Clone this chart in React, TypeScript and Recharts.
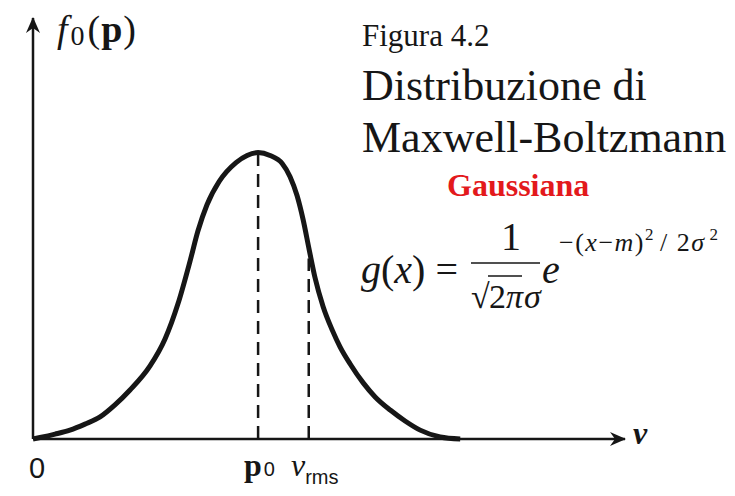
import { ComposedChart, Line, XAxis, YAxis, ReferenceLine, Customized } from "recharts";

// Speed (in units of the most probable speed p0) and relative density f0
const speeds = [
  0, 0.031, 0.098, 0.164, 0.231, 0.298, 0.364, 0.431, 0.52, 0.587, 0.644, 0.698, 0.733, 0.773, 0.827, 0.902, 0.951, 1.0,
  1.053, 1.107, 1.142, 1.173, 1.2, 1.227, 1.253, 1.289, 1.329, 1.364, 1.409, 1.467, 1.52, 1.587, 1.653, 1.72, 1.809, 1.898,
];
const density = [
  0, 0.005, 0.017, 0.031, 0.052, 0.077, 0.119, 0.171, 0.255, 0.35, 0.472, 0.622, 0.727, 0.818, 0.899, 0.965, 0.99, 1.0,
  0.99, 0.962, 0.916, 0.85, 0.766, 0.661, 0.563, 0.462, 0.381, 0.322, 0.262, 0.196, 0.147, 0.101, 0.063, 0.031, 0.007, 0,
];

// marked speeds on the axis
const P0 = 1.0;
const P0_DENSITY = 1.0;
const V_RMS = 1.225;
const V_RMS_DENSITY = 0.63;

const X_MAX = 2.63;
const Y_MAX = 1.47;

const data = speeds.map((v, i) => ({ v, f: density[i] }));

const INK = "#161616";
const SERIF = "'Liberation Serif', 'DejaVu Serif', serif";
const SANS = "'Liberation Sans', 'DejaVu Sans', sans-serif";

// arrow heads, axis labels and the side text block
function Annotations() {
  return (
    <g>
      <defs>
        <marker
          id="axis-arrow"
          viewBox="-16 -8 18 16"
          refX={0}
          refY={0}
          markerWidth={18}
          markerHeight={16}
          markerUnits="userSpaceOnUse"
          orient="auto"
        >
          <path d="M1,0 L-15,-7 L-10,0 L-15,7 Z" fill={INK} />
        </marker>
      </defs>

      {/* y axis title */}
      <text x={57} y={42} fontFamily={SERIF} fontSize={38} fill={INK}>
        <tspan fontStyle="italic">f</tspan>
        <tspan fontSize={28} dx={3} dy={3}>0</tspan>
        <tspan dx={3} dy={-3}>(</tspan>
        <tspan fontWeight="bold" dx={1}>p</tspan>
        <tspan dx={1}>)</tspan>
      </text>

      {/* x axis title */}
      <text x={633} y={444} fontFamily={SERIF} fontSize={32} fontStyle="italic" fontWeight="bold" fill={INK}>
        v
      </text>

      {/* tick labels */}
      <text x={37} y={478} textAnchor="middle" fontFamily={SANS} fontSize={29} fill={INK}>
        0
      </text>
      <text x={244} y={476} fontFamily={SERIF} fontSize={32} fill={INK}>
        <tspan fontWeight="bold">p</tspan>
        <tspan fontFamily={SANS} fontSize={20} dx={2}>0</tspan>
      </text>
      <text x={291} y={476} fontFamily={SERIF} fontSize={32} fill={INK}>
        <tspan fontStyle="italic">v</tspan>
        <tspan fontFamily={SANS} fontSize={20} dy={8}>rms</tspan>
      </text>

      {/* title block */}
      <text x={362} y={46} fontFamily={SERIF} fontSize={31} fill={INK}>
        Figura 4.2
      </text>
      <text x={362} y={100} fontFamily={SERIF} fontSize={44} fill={INK}>
        Distribuzione di
      </text>
      <text x={362} y={152} fontFamily={SERIF} fontSize={44} fill={INK}>
        Maxwell-Boltzmann
      </text>
      <text x={447} y={196} fontFamily={SERIF} fontSize={32} fontWeight="bold" fill="#e3191c">
        Gaussiana
      </text>

      {/* g(x) = 1/(sqrt(2 pi) sigma) e^(-(x-m)^2/2 sigma^2) */}
      <text x={361} y={283} fontFamily={SERIF} fontSize={40} fill={INK}>
        <tspan fontStyle="italic">g</tspan>
        <tspan>(</tspan>
        <tspan fontStyle="italic">x</tspan>
        <tspan>) =</tspan>
      </text>
      <text x={511} y={250} textAnchor="middle" fontFamily={SERIF} fontSize={40} fill={INK}>
        1
      </text>
      <line x1={471} y1={263} x2={540} y2={263} stroke={INK} strokeWidth={1.6} />
      <text x={471} y={308} fontFamily={SERIF} fontSize={34} fill={INK}>
        √
      </text>
      <line x1={488} y1={276} x2={522} y2={276} stroke={INK} strokeWidth={1.6} />
      <text x={489} y={308} fontFamily={SERIF} fontSize={34} fill={INK}>
        2
      </text>
      <text x={506} y={308} fontFamily={SERIF} fontSize={34} fontStyle="italic" fill={INK}>
        π
      </text>
      <text x={524} y={308} fontFamily={SERIF} fontSize={34} fontStyle="italic" fill={INK}>
        σ
      </text>
      <text x={542} y={283} fontFamily={SERIF} fontSize={40} fontStyle="italic" fill={INK}>
        e
      </text>
      <text x={559} y={251} fontFamily={SERIF} fontSize={26} letterSpacing={1.5} fill={INK}>
        <tspan>−(</tspan>
        <tspan fontStyle="italic">x</tspan>
        <tspan>−</tspan>
        <tspan fontStyle="italic">m</tspan>
        <tspan>)</tspan>
        <tspan fontSize={17} dy={-11}>2</tspan>
        <tspan dx={5} dy={11}>/ 2</tspan>
        <tspan fontStyle="italic">σ</tspan>
        <tspan fontSize={17} dx={4} dy={-11}>2</tspan>
      </text>
    </g>
  );
}

export default function App() {
  return (
    <div style={{ position: "absolute", left: 0, top: 0, background: "#fff" }}>
      <ComposedChart
        width={735}
        height={496}
        data={data}
        margin={{ top: 18, right: 110, bottom: 57, left: 33 }}
      >
        <XAxis type="number" dataKey="v" domain={[0, X_MAX]} hide />
        <YAxis type="number" domain={[0, Y_MAX]} hide />
        {/* axes drawn as arrows from the origin */}
        <ReferenceLine
          segment={[{ x: 0, y: 0 }, { x: X_MAX, y: 0 }]}
          stroke={INK}
          strokeWidth={2.5}
          markerEnd="url(#axis-arrow)"
        />
        <ReferenceLine
          segment={[{ x: 0, y: 0 }, { x: 0, y: Y_MAX }]}
          stroke={INK}
          strokeWidth={2.5}
          markerEnd="url(#axis-arrow)"
        />
        <ReferenceLine
          segment={[{ x: P0, y: 0 }, { x: P0, y: P0_DENSITY }]}
          stroke={INK}
          strokeWidth={2.5}
          strokeDasharray="13 8"
        />
        <ReferenceLine
          segment={[{ x: V_RMS, y: 0 }, { x: V_RMS, y: V_RMS_DENSITY }]}
          stroke={INK}
          strokeWidth={2.5}
          strokeDasharray="13 8"
        />
        <Line
          type="monotone"
          dataKey="f"
          stroke={INK}
          strokeWidth={5}
          dot={false}
          isAnimationActive={false}
        />
        <Customized component={<Annotations />} />
      </ComposedChart>
    </div>
  );
}
